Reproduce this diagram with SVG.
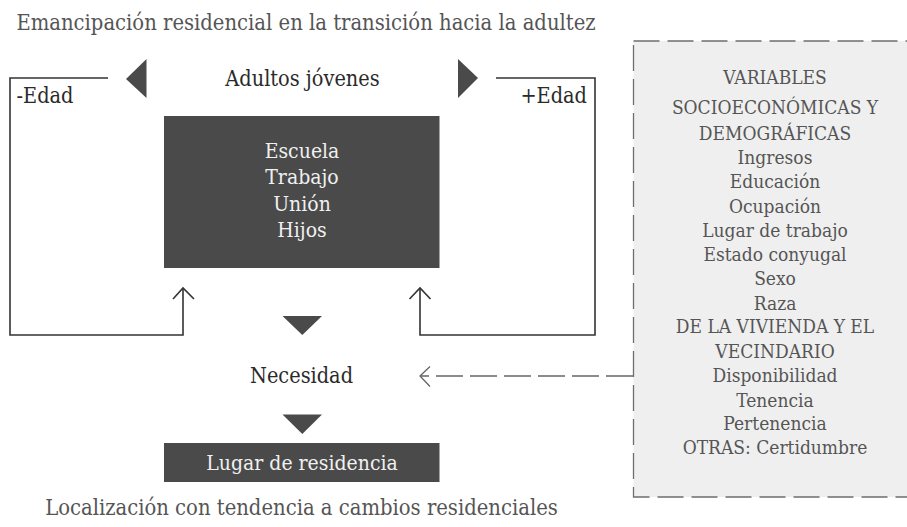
<svg xmlns="http://www.w3.org/2000/svg" width="907" height="527" viewBox="0 0 907 527">
<style>
text{font-family:"DejaVu Serif Condensed","DejaVu Serif","Liberation Serif",serif;}
.t{font-size:21.8px;fill:#555;}
.lbl{font-size:21.5px;fill:#2a2a2a;}
.inv{font-size:21px;fill:#f0f0f0;text-anchor:middle;}
.pn{font-size:19px;fill:#555;text-anchor:middle;}
.tri{fill:#4a4a4a;}
.ln{fill:none;stroke:#333;stroke-width:1.6;}
.dash{fill:none;stroke:#666;stroke-width:1.3;stroke-dasharray:27 7;}
</style>
<rect width="907" height="527" fill="#fff"/>
<g id="title"><text class="t" x="306" y="30" text-anchor="middle" font-size="22">Emancipación residencial en la transición hacia la adultez</text></g>
<g id="panel">
<rect x="633.5" y="41" width="290" height="456" fill="#efefef" stroke="#6e6e6e" stroke-width="1.3" stroke-dasharray="26 8"/>
<text class="pn" x="775" y="84">VARIABLES</text>
<text class="pn" x="775" y="114">SOCIOECONÓMICAS Y</text>
<text class="pn" x="775" y="140">DEMOGRÁFICAS</text>
<text class="pn" x="775" y="164">Ingresos</text>
<text class="pn" x="775" y="188">Educación</text>
<text class="pn" x="775" y="213">Ocupación</text>
<text class="pn" x="775" y="237">Lugar de trabajo</text>
<text class="pn" x="775" y="261">Estado conyugal</text>
<text class="pn" x="775" y="285">Sexo</text>
<text class="pn" x="775" y="310">Raza</text>
<text class="pn" x="775" y="333">DE LA VIVIENDA Y EL</text>
<text class="pn" x="775" y="358">VECINDARIO</text>
<text class="pn" x="775" y="382">Disponibilidad</text>
<text class="pn" x="775" y="407">Tenencia</text>
<text class="pn" x="775" y="430">Pertenencia</text>
<text class="pn" x="775" y="454">OTRAS: Certidumbre</text>
</g>
<g id="adultos">
<text class="lbl" x="302.5" y="86" text-anchor="middle">Adultos jóvenes</text>
<polygon class="tri" points="126,79 146.5,59 146.5,98"/>
<polygon class="tri" points="478,78 458,59 458,98"/>
</g>
<g id="menosEdad"><text class="lbl" x="16.5" y="102.5">-Edad</text></g>
<g id="masEdad"><text class="lbl" x="587" y="102.5" text-anchor="end">+Edad</text></g>
<g id="actividades">
<rect x="164" y="116" width="275.5" height="152" fill="#4a4a4a"/>
<text class="inv" x="302" y="157.5">Escuela</text>
<text class="inv" x="302" y="184">Trabajo</text>
<text class="inv" x="302" y="210.5">Unión</text>
<text class="inv" x="302" y="237">Hijos</text>
</g>
<g id="necesidad">
<polygon class="tri" points="282.5,316 322,316 302.3,335"/>
<text class="lbl" x="301.5" y="383" text-anchor="middle">Necesidad</text>
<polygon class="tri" points="282.5,414.5 322,414.5 302.3,434"/>
</g>
<g id="lugar">
<rect x="164" y="443" width="275.5" height="39" fill="#4a4a4a"/>
<text class="inv" x="302" y="470">Lugar de residencia</text>
</g>
<g id="caption"><text class="t" x="301.5" y="515" text-anchor="middle">Localización con tendencia a cambios residenciales</text></g>
<g id="connectors">
<path class="ln" d="M108,78 H10 V335 H183 V288"/>
<path class="ln" d="M173,299 L183,288 L194,299"/>
<path class="ln" d="M496,78 H595 V335 H420 V288"/>
<path class="ln" d="M409.5,299 L420,288 L430.5,299"/>
<path class="dash" d="M633,376 H421"/>
<path fill="none" stroke="#666" stroke-width="1.3" d="M430,366.5 L420,376 L430,386.5"/>
</g>
</svg>
